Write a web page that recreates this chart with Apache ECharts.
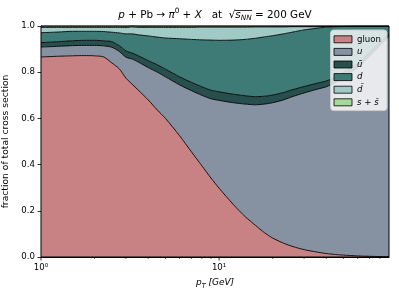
<!DOCTYPE html>
<html>
<head>
<meta charset="utf-8">
<script src="https://cdn.jsdelivr.net/npm/echarts@6/dist/echarts.min.js"></script>
<style>html,body{margin:0;padding:0;background:#fff;}#c{width:399px;height:299px;}</style>
</head>
<body>
<div id="c"></div>
<script>
// pT values [GeV]
const PT = [1,1.25,1.5,1.75,2,2.25,2.5,2.75,3,3.25,3.5,4,4.5,5,6,7,8,9,10,12,14,16,18,20,23,26,30,35,40,45,50,60,70,80,90];
// fraction of total cross section per channel
const GLUON = [.866,.869,.871,.872,.871,.866,.840,.815,.774,.748,.724,.68,.636,.60,.525,.455,.395,.342,.298,.228,.175,.137,.105,.082,.06,.045,.032,.022,.015,.011,.008,.005,.003,.002,.002];
const U     = [.043,.043,.044,.044,.045,.048,.068,.075,.091,.109,.121,.14,.164,.18,.22,.265,.305,.343,.380,.440,.487,.522,.557,.586,.62,.65,.678,.703,.722,.744,.772,.815,.867,.913,.953];
const UBAR  = [.019,.020,.021,.022,.022,.022,.024,.025,.027,.026,.027,.03,.032,.033,.035,.036,.037,.037,.037,.037,.036,.035,.034,.033,.032,.030,.028,.026,.025,.023,.020,.017,.015,.013,.011];
const D     = [.043,.042,.041,.039,.039,.040,.041,.055,.074,.083,.090,.107,.120,.135,.165,.186,.203,.217,.223,.234,.244,.253,.257,.257,.254,.249,.245,.239,.233,.219,.198,.162,.114,.071,.033];
const DBAR  = [.023,.020,.017,.017,.017,.018,.021,.024,.027,.030,.032,.037,.042,.046,.049,.052,.055,.056,.057,.056,.053,.049,.043,.038,.030,.023,.014,.007,.003,.001,0,0,0,0,0];
const SSBAR = [.006,.006,.006,.006,.006,.006,.006,.006,.006,.006,.006,.006,.006,.006,.006,.006,.005,.005,.005,.005,.005,.004,.004,.004,.004,.003,.003,.003,.002,.002,.002,.001,.001,.001,.001];

const NAMES = ['gluon','u','\u016B','d','d\u0304','s + s\u0304'];
const ITALIC = [false,true,true,true,true,true];
const COLORS = ['#c98283','#8692a2','#274f4d','#3e7b77','#a1cac7','#a6d89c'];
const VALUES = [GLUON,U,UBAR,D,DBAR,SSBAR];
const Y_TICKS_INTERVAL = 0.2;
const X_MAJOR = [1,10];
const X_MINOR = [2,3,4,5,6,7,8,9,20,30,40,50,60,70,80];

const FONT = 'DejaVu Sans';
const chart = echarts.init(document.getElementById('c'), null, {renderer:'canvas'});

// data rows are [fraction, pT] so the stacked dimension is the fraction
const series = VALUES.map((vals,k)=>({
  name: NAMES[k], type:'line', stack:'total',
  data: PT.map((x,i)=>[vals[i], x]),
  encode:{x:1, y:0},
  symbol:'none', showSymbol:false, smooth:0.25,
  color: COLORS[k],
  itemStyle:{color:COLORS[k], borderColor:'#000', borderWidth:0.8},
  lineStyle:{color:'#000', width:0.9},
  areaStyle:{color:COLORS[k], opacity:1},
  emphasis:{disabled:true}, animation:false
}));

chart.setOption({
  animation:false,
  backgroundColor:'#fff',
  grid:{left:41, right:10, top:26, bottom:42, outerBoundsMode:'none', containLabel:false,
        show:true, borderColor:'#000', borderWidth:1, backgroundColor:'transparent', z:10},
  xAxis:{
    type:'log', logBase:10, min:1, max:90,
    axisLine:{show:true, lineStyle:{color:'#000', width:1}},
    axisTick:{show:false},
    splitLine:{show:false}, minorTick:{show:false}, minorSplitLine:{show:false},
    axisLabel:{color:'#000', fontFamily:FONT, fontSize:8.6, margin:6,
      formatter:(v)=> Math.abs(v-1)<1e-6 ? '10\u2070' : (Math.abs(v-10)<1e-6 ? '10\u00B9' : '')},
    name:'{i|p}{sub|T} {i|[GeV]}', nameLocation:'middle', nameGap:17,
    nameTextStyle:{color:'#000', fontFamily:FONT, fontSize:9, lineHeight:12,
      rich:{i:{fontStyle:'italic', fontFamily:FONT, fontSize:9, lineHeight:12},
            sub:{fontStyle:'italic', fontFamily:FONT, fontSize:6.4, lineHeight:7, verticalAlign:'bottom'}}}
  },
  yAxis:{
    type:'value', min:0, max:1, interval:Y_TICKS_INTERVAL,
    axisLine:{show:true, lineStyle:{color:'#000', width:1}},
    axisTick:{show:true, inside:false, length:3.5, lineStyle:{color:'#000', width:0.8}},
    splitLine:{show:false},
    axisLabel:{color:'#000', fontFamily:FONT, fontSize:8.6, margin:6, formatter:(v)=>v.toFixed(1)},
    name:'fraction of total cross section', nameLocation:'middle', nameGap:27, nameRotate:90,
    nameTextStyle:{color:'#000', fontFamily:FONT, fontSize:9.2}
  },
  legend:{
    orient:'vertical', right:12, top:30, icon:'rect', itemWidth:18, itemHeight:7, itemGap:2,
    backgroundColor:'rgba(255,255,255,0.8)', borderColor:'#cccccc', borderWidth:1, borderRadius:3,
    padding:[4,6,3,3],
    itemStyle:{borderColor:'#000', borderWidth:0.8},
    textStyle:{color:'#000', fontFamily:FONT, fontSize:8.6, lineHeight:10.6},
    selectedMode:false,
    data: NAMES.map((n,k)=>({name:n, textStyle:{fontStyle: ITALIC[k]?'italic':'normal'}}))
  },
  series: series
});

function drawExtras(){
  const y0 = chart.convertToPixel({yAxisIndex:0}, 0);
  const els = [];
  X_MAJOR.forEach(v=>{
    const x = chart.convertToPixel({xAxisIndex:0}, v);
    els.push({type:'line', shape:{x1:x,y1:y0,x2:x,y2:y0+3.5}, style:{stroke:'#000', lineWidth:0.8}, z:20});
  });
  X_MINOR.forEach(v=>{
    const x = chart.convertToPixel({xAxisIndex:0}, v);
    els.push({type:'line', shape:{x1:x,y1:y0,x2:x,y2:y0+2}, style:{stroke:'#000', lineWidth:0.6}, z:20});
  });
  const cx = (chart.convertToPixel({xAxisIndex:0}, 1) + chart.convertToPixel({xAxisIndex:0}, 90))/2;
  // title segments: [text, font]
  const FS = 10.4, FSS = 7.3;
  const segs = [
    ['p', 'italic '+FS+'px "'+FONT+'"'],
    [' + Pb \u2192 ', FS+'px "'+FONT+'"'],
    ['\u03C0', 'italic '+FS+'px "'+FONT+'"'],
    ['0', FSS+'px "'+FONT+'"'],
    [' + ', FS+'px "'+FONT+'"'],
    ['X', 'italic '+FS+'px "'+FONT+'"'],
    ['   at  \u221A', FS+'px "'+FONT+'"'],
    ['s', 'italic '+FS+'px "'+FONT+'"'],
    ['NN', 'italic '+FSS+'px "'+FONT+'"'],
    [' = 200 GeV', FS+'px "'+FONT+'"']
  ];
  const ctx = document.createElement('canvas').getContext('2d');
  const widths = segs.map(s=>{ctx.font = s[1]; return ctx.measureText(s[0]).width;});
  const total = widths.reduce((a,b)=>a+b,0);
  let xs = cx - total/2;
  const starts = [];
  widths.forEach(w=>{starts.push(xs); xs += w;});
  const ovX1 = starts[7] - 0.5, ovX2 = starts[8] + widths[8] + 0.5;
  els.push({type:'text', z:20, style:{
    text:'{i|p} + Pb \u2192 {i|\u03C0}{sup|0} + {i|X}   at  \u221A{i|s}{sub|NN} = 200 GeV',
    x:cx, y:15, align:'center', verticalAlign:'middle',
    fontFamily:FONT, fontSize:FS, lineHeight:14, fill:'#000',
    rich:{
      i:{fontStyle:'italic', fontFamily:FONT, fontSize:FS, lineHeight:14},
      sup:{fontFamily:FONT, fontSize:FSS, lineHeight:8, verticalAlign:'top'},
      sub:{fontStyle:'italic', fontFamily:FONT, fontSize:FSS, lineHeight:8, verticalAlign:'bottom'}
    }}});
  els.push({type:'line', z:20, shape:{x1:ovX1, y1:10.5, x2:ovX2, y2:10.5}, style:{stroke:'#000', lineWidth:0.8}});
  chart.setOption({graphic:{elements:els}});
}
drawExtras();
</script>
</body>
</html>
